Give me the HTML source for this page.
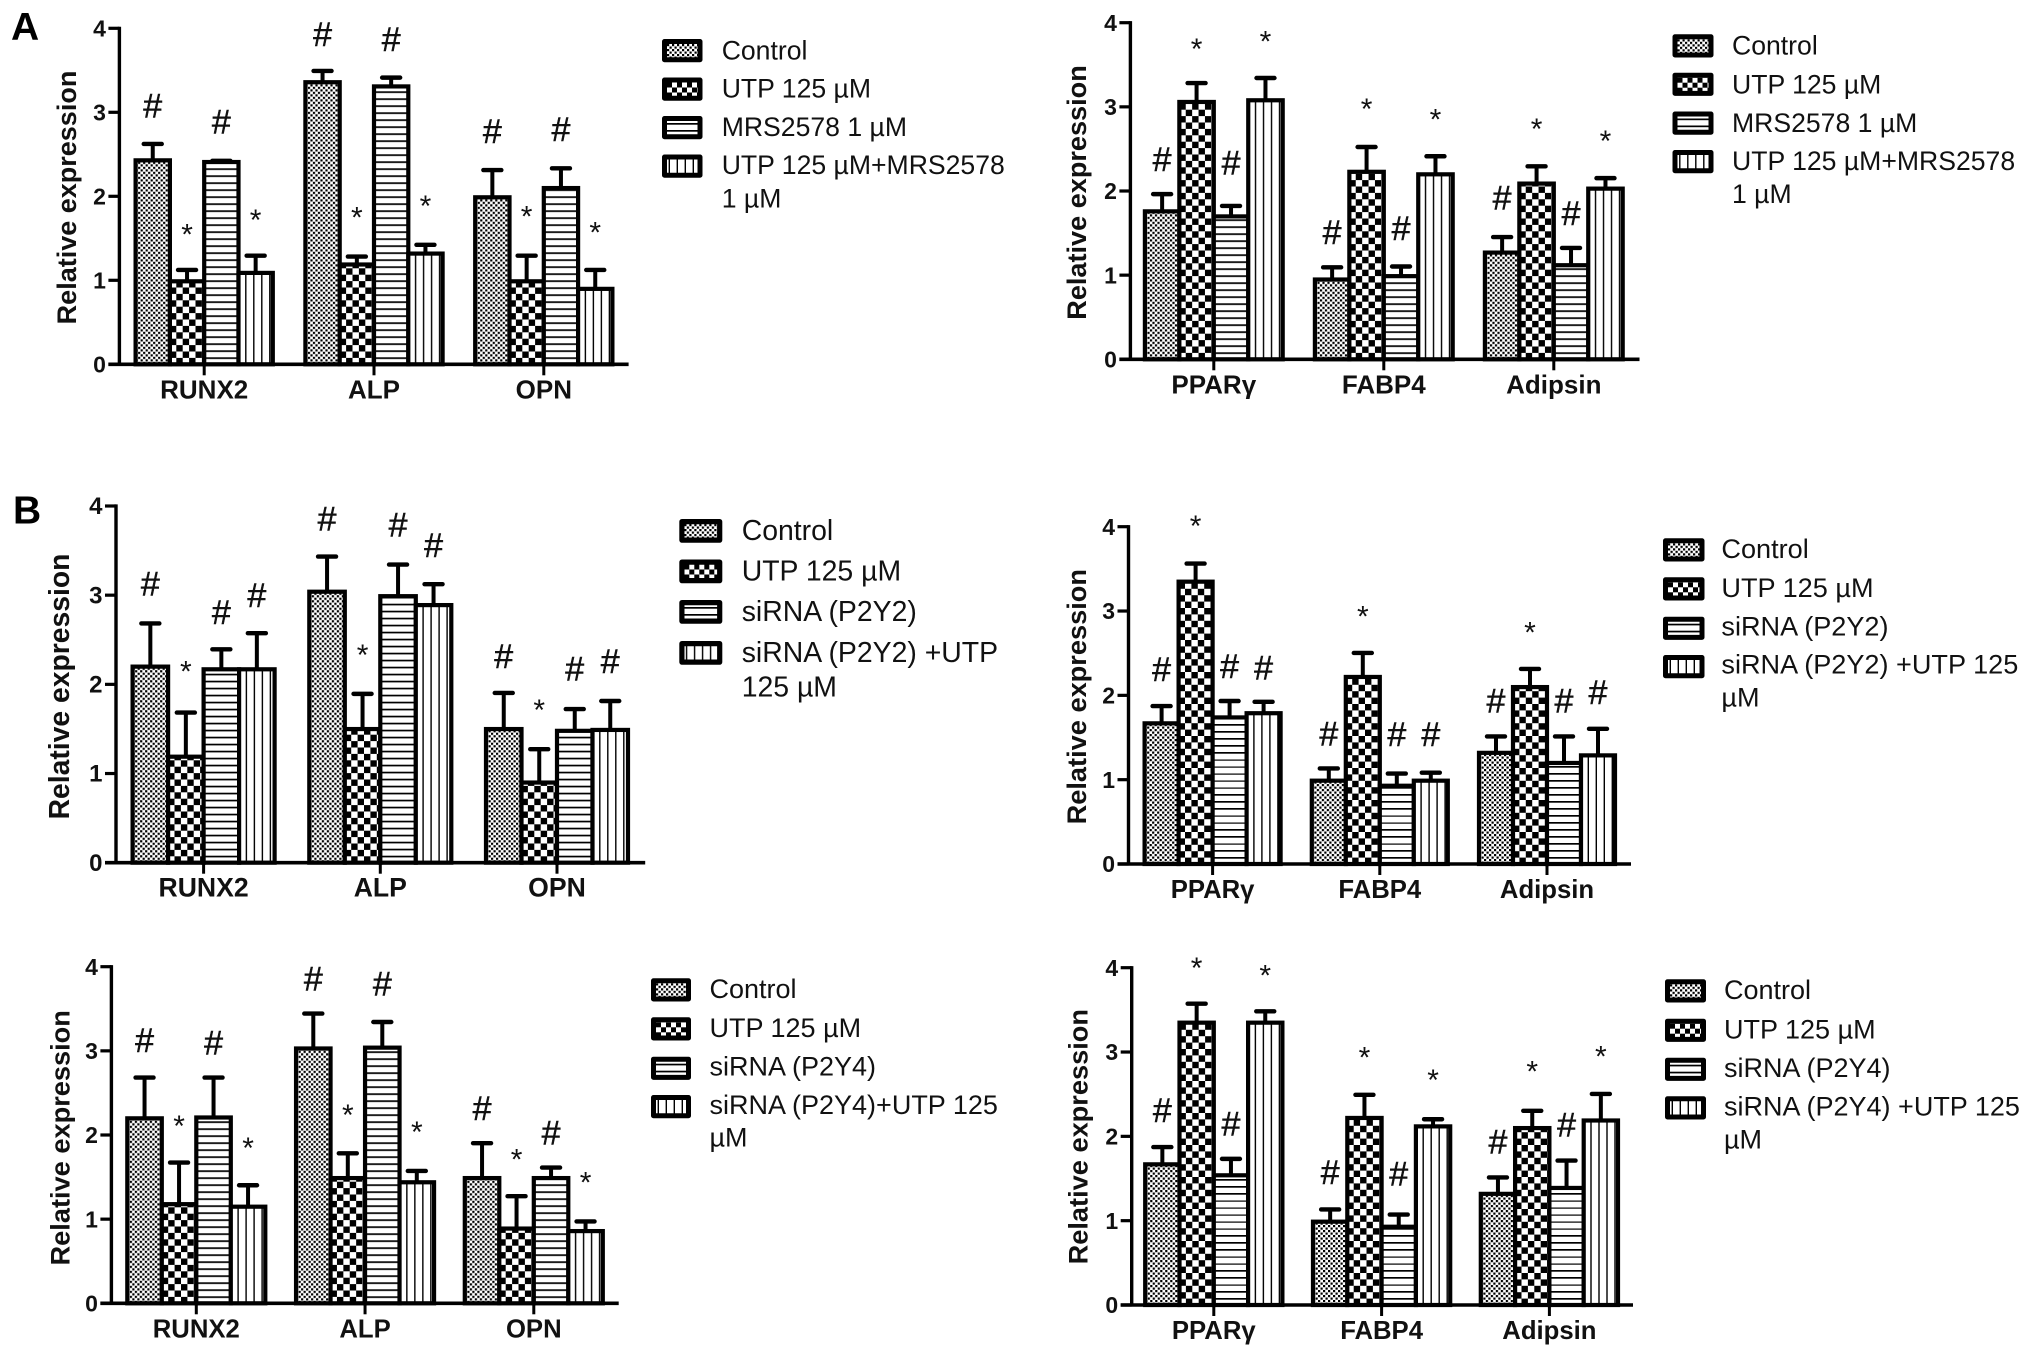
<!DOCTYPE html>
<html lang="en">
<head>
<meta charset="utf-8">
<title>Relative expression bar charts</title>
<style>
  html, body { margin: 0; padding: 0; background: #fff; }
  svg { display: block; filter: blur(0.3px); font-family: "Liberation Sans", Arial, sans-serif; }
  .lg { font-size: 26.6px; fill: #111; }
  .ytitle { font-weight: bold; fill: #111; text-anchor: middle; }
  .letter { font-size: 39px; font-weight: bold; fill: #000; }
</style>
</head>
<body>
<svg id="figure" xmlns="http://www.w3.org/2000/svg" width="2031" height="1357" viewBox="0 0 2031 1357">
  <defs>
    <pattern id="pat-control" patternUnits="userSpaceOnUse" width="5" height="5">
      <rect width="5" height="5" fill="#fff"/><rect width="2.2" height="2.2" fill="#000"/><rect x="2.5" y="2.5" width="2.2" height="2.2" fill="#000"/>
    </pattern>
    <pattern id="pat-utp" patternUnits="userSpaceOnUse" width="12.8" height="12.8">
      <rect width="12.8" height="12.8" fill="#fff"/><rect width="6.4" height="6.4" fill="#000"/><rect x="6.4" y="6.4" width="6.4" height="6.4" fill="#000"/>
    </pattern>
    <pattern id="pat-utp-legend" patternUnits="userSpaceOnUse" width="10" height="10">
      <rect width="10" height="10" fill="#fff"/><rect width="5" height="5" fill="#000"/><rect x="5" y="5" width="5" height="5" fill="#000"/>
    </pattern>
    <pattern id="pat-horizontal" patternUnits="userSpaceOnUse" width="7" height="7">
      <rect width="7" height="7" fill="#fff"/><rect width="7" height="1.7" fill="#000"/>
    </pattern>
    <pattern id="pat-vertical" patternUnits="userSpaceOnUse" width="8" height="8">
      <rect width="8" height="8" fill="#fff"/><rect x="6.6" width="1.4" height="8" fill="#000"/>
    </pattern>
  </defs>
  <rect width="2031" height="1357" fill="#fff"/>

  <text class="letter" x="11" y="40">A</text>
  <text class="letter" x="13" y="523.5">B</text>

  <text class="ytitle" font-size="27" transform="translate(76,197.5) rotate(-90)">Relative expression</text>
  <text class="ytitle" font-size="27.1" transform="translate(1086,192.5) rotate(-90)">Relative expression</text>
  <text class="ytitle" font-size="28.3" transform="translate(69,686.5) rotate(-90)">Relative expression</text>
  <text class="ytitle" font-size="27.2" transform="translate(1086,696.7) rotate(-90)">Relative expression</text>
  <text class="ytitle" font-size="27.2" transform="translate(69.5,1137.8) rotate(-90)">Relative expression</text>
  <text class="ytitle" font-size="27.2" transform="translate(1087.5,1136.7) rotate(-90)">Relative expression</text>

  <g id="panel-a1"></g>
  <g id="panel-a2"></g>
  <g id="panel-b1"></g>
  <g id="panel-b2"></g>
  <g id="panel-b3"></g>
  <g id="panel-b4"></g>

  <!-- Legend A, left -->
  <g stroke-linejoin="round">
    <g transform="translate(662,39)"><rect x="2.5" y="2.5" width="35.5" height="18.2" fill="url(#pat-control)" stroke="#000" stroke-width="5"/></g>
    <g transform="translate(662,77.5)"><rect x="2.5" y="2.5" width="35.5" height="18.2" fill="url(#pat-utp-legend)" stroke="#000" stroke-width="5"/></g>
    <g transform="translate(662,116)"><rect x="2.5" y="2.5" width="35.5" height="18.2" fill="url(#pat-horizontal)" stroke="#000" stroke-width="5"/></g>
    <g transform="translate(662,154.5)"><rect x="2.5" y="2.5" width="35.5" height="18.2" fill="url(#pat-vertical)" stroke="#000" stroke-width="5"/></g>
    <text class="lg" x="721.7" y="59.3">Control</text>
    <text class="lg" x="721.7" y="97.6">UTP 125 µM</text>
    <text class="lg" x="721.7" y="136">MRS2578 1 µM</text>
    <text class="lg" x="721.7" y="174">UTP 125 µM+MRS2578</text>
    <text class="lg" x="721.7" y="207.5">1 µM</text>
  </g>

  <!-- Legend A, right -->
  <g stroke-linejoin="round">
    <g transform="translate(1672.5,34.3)"><rect x="2.5" y="2.5" width="36" height="18.2" fill="url(#pat-control)" stroke="#000" stroke-width="5"/></g>
    <g transform="translate(1672.5,72.7)"><rect x="2.5" y="2.5" width="36" height="18.2" fill="url(#pat-utp-legend)" stroke="#000" stroke-width="5"/></g>
    <g transform="translate(1672.5,111.5)"><rect x="2.5" y="2.5" width="36" height="18.2" fill="url(#pat-horizontal)" stroke="#000" stroke-width="5"/></g>
    <g transform="translate(1672.5,150)"><rect x="2.5" y="2.5" width="36" height="18.2" fill="url(#pat-vertical)" stroke="#000" stroke-width="5"/></g>
    <text class="lg" x="1732" y="54.6">Control</text>
    <text class="lg" x="1732" y="93.3">UTP 125 µM</text>
    <text class="lg" x="1732" y="132">MRS2578 1 µM</text>
    <text class="lg" x="1732" y="170.2">UTP 125 µM+MRS2578</text>
    <text class="lg" x="1732" y="203.2">1 µM</text>
  </g>

  <!-- Legend B, P2Y2 left -->
  <g stroke-linejoin="round">
    <g transform="translate(679.3,519)"><rect x="2.6" y="2.6" width="37.8" height="18.5" fill="url(#pat-control)" stroke="#000" stroke-width="5.2"/></g>
    <g transform="translate(679.3,559.5)"><rect x="2.6" y="2.6" width="37.8" height="18.5" fill="url(#pat-utp-legend)" stroke="#000" stroke-width="5.2"/></g>
    <g transform="translate(679.3,600)"><rect x="2.6" y="2.6" width="37.8" height="18.5" fill="url(#pat-horizontal)" stroke="#000" stroke-width="5.2"/></g>
    <g transform="translate(679.3,641)"><rect x="2.6" y="2.6" width="37.8" height="18.5" fill="url(#pat-vertical)" stroke="#000" stroke-width="5.2"/></g>
    <text class="lg" style="font-size:28.4px" x="741.7" y="540">Control</text>
    <text class="lg" style="font-size:28.4px" x="741.7" y="580.3">UTP 125 µM</text>
    <text class="lg" style="font-size:28.4px" x="741.7" y="621">siRNA (P2Y2)</text>
    <text class="lg" style="font-size:28.4px" x="741.7" y="662">siRNA (P2Y2) +UTP</text>
    <text class="lg" style="font-size:28.4px" x="741.7" y="696.3">125 µM</text>
  </g>

  <!-- Legend B, P2Y2 right -->
  <g stroke-linejoin="round">
    <g transform="translate(1663,538.3)"><rect x="2.5" y="2.5" width="36.5" height="18.2" fill="url(#pat-control)" stroke="#000" stroke-width="5"/></g>
    <g transform="translate(1663,577.3)"><rect x="2.5" y="2.5" width="36.5" height="18.2" fill="url(#pat-utp-legend)" stroke="#000" stroke-width="5"/></g>
    <g transform="translate(1663,616.7)"><rect x="2.5" y="2.5" width="36.5" height="18.2" fill="url(#pat-horizontal)" stroke="#000" stroke-width="5"/></g>
    <g transform="translate(1663,655)"><rect x="2.5" y="2.5" width="36.5" height="18.2" fill="url(#pat-vertical)" stroke="#000" stroke-width="5"/></g>
    <text class="lg" style="font-size:27.1px" x="1721.4" y="558">Control</text>
    <text class="lg" style="font-size:27.1px" x="1721.4" y="597">UTP 125 µM</text>
    <text class="lg" style="font-size:27.1px" x="1721.4" y="635.7">siRNA (P2Y2)</text>
    <text class="lg" style="font-size:27.1px" x="1721.4" y="673.7">siRNA (P2Y2) +UTP 125</text>
    <text class="lg" style="font-size:27.1px" x="1721.4" y="706.7">µM</text>
  </g>

  <!-- Legend B, P2Y4 left -->
  <g stroke-linejoin="round">
    <g transform="translate(651,978.3)"><rect x="2.5" y="2.5" width="35" height="18.2" fill="url(#pat-control)" stroke="#000" stroke-width="5"/></g>
    <g transform="translate(651,1017.3)"><rect x="2.5" y="2.5" width="35" height="18.2" fill="url(#pat-utp-legend)" stroke="#000" stroke-width="5"/></g>
    <g transform="translate(651,1056.7)"><rect x="2.5" y="2.5" width="35" height="18.2" fill="url(#pat-horizontal)" stroke="#000" stroke-width="5"/></g>
    <g transform="translate(651,1095)"><rect x="2.5" y="2.5" width="35" height="18.2" fill="url(#pat-vertical)" stroke="#000" stroke-width="5"/></g>
    <text class="lg" style="font-size:27px" x="709.5" y="998">Control</text>
    <text class="lg" style="font-size:27px" x="709.5" y="1037">UTP 125 µM</text>
    <text class="lg" style="font-size:27px" x="709.5" y="1075.7">siRNA (P2Y4)</text>
    <text class="lg" style="font-size:27px" x="709.5" y="1114">siRNA (P2Y4)+UTP 125</text>
    <text class="lg" style="font-size:27px" x="709.5" y="1146.7">µM</text>
  </g>

  <!-- Legend B, P2Y4 right -->
  <g stroke-linejoin="round">
    <g transform="translate(1665,979.3)"><rect x="2.5" y="2.5" width="36" height="18.2" fill="url(#pat-control)" stroke="#000" stroke-width="5"/></g>
    <g transform="translate(1665,1018.7)"><rect x="2.5" y="2.5" width="36" height="18.2" fill="url(#pat-utp-legend)" stroke="#000" stroke-width="5"/></g>
    <g transform="translate(1665,1057.7)"><rect x="2.5" y="2.5" width="36" height="18.2" fill="url(#pat-horizontal)" stroke="#000" stroke-width="5"/></g>
    <g transform="translate(1665,1096.3)"><rect x="2.5" y="2.5" width="36" height="18.2" fill="url(#pat-vertical)" stroke="#000" stroke-width="5"/></g>
    <text class="lg" style="font-size:27px" x="1724" y="999">Control</text>
    <text class="lg" style="font-size:27px" x="1724" y="1038.4">UTP 125 µM</text>
    <text class="lg" style="font-size:27px" x="1724" y="1077">siRNA (P2Y4)</text>
    <text class="lg" style="font-size:27px" x="1724" y="1115.4">siRNA (P2Y4) +UTP 125</text>
    <text class="lg" style="font-size:27px" x="1724" y="1148.3">µM</text>
  </g>
</svg>

<script>
// ---- Shared data ----
const yTickLabels = [0, 1, 2, 3, 4];
const osteoCategories = ['RUNX2', 'ALP', 'OPN'];
const adipoCategories = ['PPARγ', 'FABP4', 'Adipsin'];
const seriesKeys = ['control', 'utp', 'treatment', 'combination'];

// ---- Panel A, left ----
const a1Means = [[2.44, 1.0, 2.42, 1.1], [3.37, 1.2, 3.32, 1.33], [2.0, 1.0, 2.11, 0.91]];
const a1Upper = [[2.63, 1.13, 2.43, 1.3], [3.5, 1.29, 3.42, 1.43], [2.32, 1.3, 2.34, 1.13]];
const a1Marks = [['#', '*', '#', '*'], ['#', '*', '#', '*'], ['#', '*', '#', '*']];
const a1MarkGaps = [[0.45, 0.5, 0.46, 0.5], [0.43, 0.54, 0.45, 0.54], [0.46, 0.54, 0.46, 0.52]];

// ---- Panel A, right ----
const a2Means = [[1.77, 3.07, 1.71, 3.09], [0.96, 2.24, 1.0, 2.21], [1.28, 2.1, 1.13, 2.04]];
const a2Upper = [[1.97, 3.29, 1.83, 3.35], [1.1, 2.53, 1.11, 2.42], [1.46, 2.3, 1.33, 2.16]];
const a2Marks = [['#', '*', '#', '*'], ['#', '*', '#', '*'], ['#', '*', '#', '*']];
const a2MarkGaps = [[0.41, 0.48, 0.51, 0.51], [0.41, 0.53, 0.45, 0.51], [0.46, 0.52, 0.41, 0.52]];

// ---- Panel B, P2Y2 left ----
const b1Means = [[2.21, 1.2, 2.18, 2.18], [3.05, 1.51, 3.0, 2.9], [1.51, 0.91, 1.49, 1.5]];
const b1Upper = [[2.69, 1.69, 2.4, 2.58], [3.44, 1.9, 3.35, 3.13], [1.91, 1.28, 1.73, 1.82]];
const b1Marks = [['#', '*', '#', '#'], ['#', '*', '#', '#'], ['#', '*', '#', '#']];
const b1MarkGaps = [[0.44, 0.53, 0.41, 0.42], [0.42, 0.51, 0.44, 0.43], [0.41, 0.51, 0.45, 0.44]];

// ---- Panel B, P2Y2 right ----
const b2Means = [[1.68, 3.36, 1.75, 1.8], [1.0, 2.23, 0.94, 1.0], [1.33, 2.11, 1.21, 1.3]];
const b2Upper = [[1.88, 3.57, 1.94, 1.93], [1.14, 2.51, 1.08, 1.09], [1.52, 2.32, 1.52, 1.61]];
const b2Marks = [['#', '*', '#', '#'], ['#', '*', '#', '#'], ['#', '*', '#', '#']];
const b2MarkGaps = [[0.43, 0.52, 0.41, 0.4], [0.41, 0.51, 0.46, 0.45], [0.42, 0.51, 0.42, 0.43]];

// ---- Panel B, P2Y4 left ----
const b3Means = [[2.21, 1.19, 2.22, 1.16], [3.04, 1.5, 3.05, 1.45], [1.5, 0.9, 1.5, 0.87]];
const b3Upper = [[2.69, 1.68, 2.69, 1.41], [3.45, 1.79, 3.35, 1.58], [1.91, 1.28, 1.62, 0.98]];
const b3Marks = [['#', '*', '#', '*'], ['#', '*', '#', '*'], ['#', '*', '#', '*']];
const b3MarkGaps = [[0.44, 0.51, 0.41, 0.52], [0.41, 0.53, 0.45, 0.54], [0.41, 0.51, 0.41, 0.54]];

// ---- Panel B, P2Y4 right ----
const b4Means = [[1.68, 3.36, 1.55, 3.36], [1.0, 2.23, 0.94, 2.13], [1.33, 2.11, 1.4, 2.2]];
const b4Upper = [[1.88, 3.58, 1.74, 3.49], [1.14, 2.5, 1.08, 2.21], [1.52, 2.31, 1.72, 2.51]];
const b4Marks = [['#', '*', '#', '*'], ['#', '*', '#', '*'], ['#', '*', '#', '*']];
const b4MarkGaps = [[0.43, 0.5, 0.41, 0.5], [0.44, 0.52, 0.48, 0.54], [0.42, 0.54, 0.42, 0.52]];

// ---- Layout (not data) ----
const panels = [
  { id: 'panel-a1', cats: osteoCategories, means: a1Means, upper: a1Upper, marks: a1Marks, gaps: a1MarkGaps,
    axisX: 119.4, top: 28.3, bottom: 364.3, right: 628.6, first: 204.2, step: 169.8, barW: 34.3, tickFont: 23, catFont: 26 },
  { id: 'panel-a2', cats: adipoCategories, means: a2Means, upper: a2Upper, marks: a2Marks, gaps: a2MarkGaps,
    axisX: 1130.4, top: 22.7, bottom: 359.3, right: 1639.5, first: 1213.8, step: 170, barW: 34.45, tickFont: 23, catFont: 26 },
  { id: 'panel-b1', cats: osteoCategories, means: b1Means, upper: b1Upper, marks: b1Marks, gaps: b1MarkGaps,
    axisX: 116, top: 506, bottom: 862.7, right: 645.2, first: 203.6, step: 176.7, barW: 35.5, tickFont: 24, catFont: 26.6 },
  { id: 'panel-b2', cats: adipoCategories, means: b2Means, upper: b2Upper, marks: b2Marks, gaps: b2MarkGaps,
    axisX: 1128.5, top: 526.7, bottom: 864, right: 1631, first: 1212.6, step: 167.2, barW: 34, tickFont: 23, catFont: 25.7 },
  { id: 'panel-b3', cats: osteoCategories, means: b3Means, upper: b3Upper, marks: b3Marks, gaps: b3MarkGaps,
    axisX: 111.4, top: 966.7, bottom: 1303.3, right: 618.7, first: 196.3, step: 168.75, barW: 34.5, tickFont: 23, catFont: 25.7 },
  { id: 'panel-b4', cats: adipoCategories, means: b4Means, upper: b4Upper, marks: b4Marks, gaps: b4MarkGaps,
    axisX: 1131.7, top: 967.7, bottom: 1305, right: 1633, first: 1213.8, step: 167.8, barW: 34.3, tickFont: 23, catFont: 25.7 }
];
const seriesFills = ['url(#pat-control)', 'url(#pat-utp)', 'url(#pat-horizontal)', 'url(#pat-vertical)'];
const SVG_NS = 'http://www.w3.org/2000/svg';

function addEl(parent, tag, attrs, text) {
  const node = document.createElementNS(SVG_NS, tag);
  for (const key in attrs) node.setAttribute(key, attrs[key]);
  if (text !== undefined) node.textContent = text;
  parent.appendChild(node);
  return node;
}

function drawPanel(p) {
  const root = document.getElementById(p.id);
  const yMax = yTickLabels[yTickLabels.length - 1];
  const yScale = function (v) { return p.bottom - (v / yMax) * (p.bottom - p.top); };
  const xBar = function (g, s) { return p.first + g * p.step + (s - 2) * p.barW; };
  const xCenter = function (g) { return p.first + g * p.step; };

  p.cats.forEach(function (cat, g) {
    seriesKeys.forEach(function (key, s) {
      const x = xBar(g, s);
      const topY = yScale(p.means[g][s]) + 1;
      const upY = yScale(p.upper[g][s]) + 0.6;
      const mid = x + p.barW / 2;

      const stem = addEl(root, 'line', { x1: mid, x2: mid, y1: topY, y2: upY, stroke: '#000', 'stroke-width': 4 });
      
      

      const cap = addEl(root, 'line', { x1: mid - 9, x2: mid + 9, y1: upY, y2: upY, stroke: '#000', 'stroke-width': 4.4, 'stroke-linecap': 'round' });
      
      

      const holder = addEl(root, 'g', { transform: 'translate(' + x + ',' + p.bottom + ')' });
      
      

      const bar = addEl(holder, 'rect', { x: 0, y: topY - p.bottom, width: p.barW, height: p.bottom - topY, fill: seriesFills[s], stroke: '#000', 'stroke-width': 4.2 });
      
      

      const symbol = p.marks[g][s];
      const centerY = yScale(p.upper[g][s] + p.gaps[g][s]);
      const isHash = symbol === '#';
      const mark = addEl(root, 'text', { x: mid, y: centerY + (isHash ? 12 : 17), 'text-anchor': 'middle', 'font-size': isHash ? 34 : 30, fill: '#111', stroke: '#111', 'stroke-width': isHash ? 0.5 : 0 }, symbol);
      
      
    });
  });

  const yAxis = addEl(root, 'line', { x1: p.axisX, x2: p.axisX, y1: p.top - 1.6, y2: p.bottom, stroke: '#000', 'stroke-width': 3.4 });
  
  

  const xAxis = addEl(root, 'line', { x1: p.axisX - 11, x2: p.right, y1: p.bottom, y2: p.bottom, stroke: '#000', 'stroke-width': 3.6 });
  
  

  yTickLabels.forEach(function (t) {
    const y = yScale(t);
    const tick = addEl(root, 'line', { x1: p.axisX - 11, x2: p.axisX, y1: y, y2: y, stroke: '#000', 'stroke-width': 3.2 });
    
    

    const label = addEl(root, 'text', { x: p.axisX - 13.5, y: y + 8.2, 'text-anchor': 'end', 'font-size': p.tickFont, 'font-weight': 'bold', fill: '#111' }, String(t));
    
    
  });

  p.cats.forEach(function (cat, g) {
    const cx = xCenter(g);
    const tick = addEl(root, 'line', { x1: cx, x2: cx, y1: p.bottom, y2: p.bottom + 11, stroke: '#000', 'stroke-width': 3 });
    
    

    const label = addEl(root, 'text', { x: cx, y: p.bottom + 34, 'text-anchor': 'middle', 'font-size': p.catFont, 'font-weight': 'bold', fill: '#111' }, cat);
    
    
  });
}

panels.forEach(drawPanel);
</script>
</body>
</html>
